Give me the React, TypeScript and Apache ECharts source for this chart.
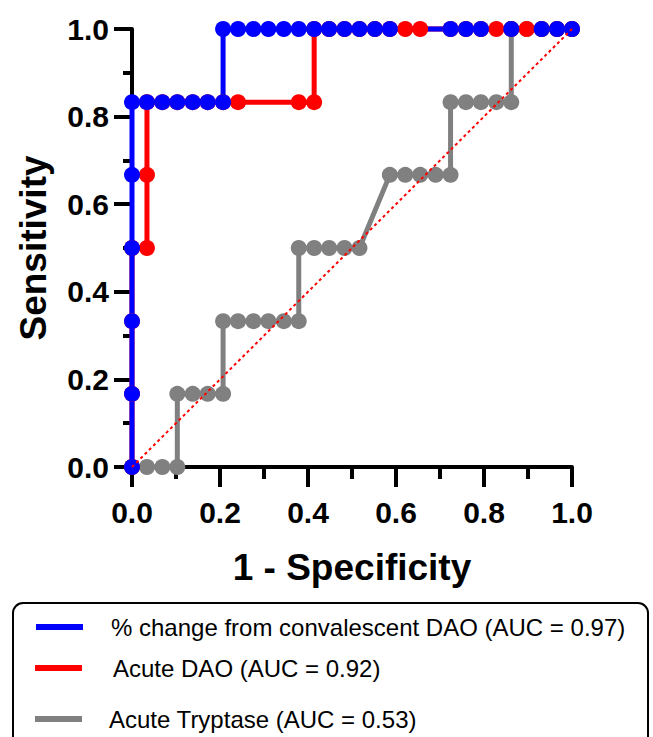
import React, { useEffect, useRef } from "react";
import * as echarts from "echarts";

// 1 - Specificity values (x) and Sensitivity values (y) for each curve
const blueName = "% change from convalescent DAO (AUC = 0.97)";
const redName = "Acute DAO (AUC = 0.92)";
const grayName = "Acute Tryptase (AUC = 0.53)";

const blueX = [0, 0, 0, 0, 0, 0, 0.034, 0.069, 0.103, 0.138, 0.172, 0.207, 0.207, 0.241, 0.276, 0.31, 0.345, 0.379, 0.414, 0.448, 0.483, 0.517, 0.552, 0.586, 0.724, 0.759, 0.793, 0.862, 0.931, 0.966, 1];
const blueY = [0, 0.167, 0.333, 0.5, 0.667, 0.833, 0.833, 0.833, 0.833, 0.833, 0.833, 0.833, 1, 1, 1, 1, 1, 1, 1, 1, 1, 1, 1, 1, 1, 1, 1, 1, 1, 1, 1];

const redX = [0, 0, 0, 0, 0.034, 0.034, 0.034, 0.069, 0.103, 0.138, 0.172, 0.207, 0.241, 0.379, 0.414, 0.414, 0.448, 0.483, 0.517, 0.552, 0.586, 0.621, 0.655, 0.724, 0.759, 0.793, 0.828, 0.862, 0.897, 0.931, 0.966, 1];
const redY = [0, 0.167, 0.333, 0.5, 0.5, 0.667, 0.833, 0.833, 0.833, 0.833, 0.833, 0.833, 0.833, 0.833, 0.833, 1, 1, 1, 1, 1, 1, 1, 1, 1, 1, 1, 1, 1, 1, 1, 1, 1];

const grayX = [0, 0.034, 0.069, 0.103, 0.103, 0.138, 0.172, 0.207, 0.207, 0.241, 0.276, 0.31, 0.345, 0.379, 0.379, 0.414, 0.448, 0.483, 0.517, 0.586, 0.621, 0.655, 0.69, 0.724, 0.724, 0.759, 0.793, 0.828, 0.862, 0.862, 0.897, 0.931, 0.966, 1];
const grayY = [0, 0, 0, 0, 0.167, 0.167, 0.167, 0.167, 0.333, 0.333, 0.333, 0.333, 0.333, 0.333, 0.5, 0.5, 0.5, 0.5, 0.5, 0.667, 0.667, 0.667, 0.667, 0.667, 0.833, 0.833, 0.833, 0.833, 0.833, 1, 1, 1, 1, 1];

const diagX = [0, 1];
const diagY = [0, 1];

const zip = (xs: number[], ys: number[]) => xs.map((x, i) => [x, ys[i]]);

const FONT = "'Liberation Sans', Arial, sans-serif";

export default function App() {
  const ref = useRef<HTMLDivElement>(null);
  useEffect(() => {
    document.body.style.margin = "0";
    const chart = echarts.init(ref.current!, null, { renderer: "svg" });
    const lineSeries = (name: string, color: string, xs: number[], ys: number[]) => ({
      name,
      type: "line",
      data: zip(xs, ys),
      symbol: "circle",
      symbolSize: 16,
      showSymbol: true,
      clip: false,
      lineStyle: { color, width: 5 },
      itemStyle: { color, borderWidth: 0 },
      emphasis: { disabled: true },
    });
    const legendItem = (name: string, left: number, top: number, gap: number) => ({
      data: [name],
      left,
      top,
      padding: 0,
      icon: "rect",
      itemWidth: 47,
      itemHeight: 6,
      selectedMode: false,
      textStyle: { fontSize: 24, fontFamily: FONT, color: "#000", padding: [0, 0, 0, gap] },
    });
    chart.setOption({
      animation: false,
      grid: { left: 132, right: 81, top: 29, bottom: 270 },
      xAxis: {
        type: "value",
        min: 0,
        max: 1,
        interval: 0.2,
        name: "1 - Specificity",
        nameLocation: "middle",
        nameGap: 82,
        nameTextStyle: { fontSize: 37, fontWeight: "bold", fontFamily: FONT, color: "#000" },
        axisLine: { show: true, lineStyle: { color: "#000", width: 4 } },
        axisTick: { show: true, length: 20, lineStyle: { color: "#000", width: 4 } },
        minorTick: { show: true, splitNumber: 2, length: 12, lineStyle: { color: "#000", width: 4 } },
        splitLine: { show: false },
        axisLabel: {
          margin: 30,
          fontSize: 30,
          fontWeight: "bold",
          fontFamily: FONT,
          color: "#000",
          formatter: (v: number) => v.toFixed(1),
        },
      },
      yAxis: {
        type: "value",
        min: 0,
        max: 1,
        interval: 0.2,
        name: "Sensitivity",
        nameLocation: "middle",
        nameGap: 80,
        nameTextStyle: { fontSize: 37, fontWeight: "bold", fontFamily: FONT, color: "#000" },
        axisLine: { show: true, lineStyle: { color: "#000", width: 4 } },
        axisTick: { show: true, length: 18, lineStyle: { color: "#000", width: 4 } },
        minorTick: { show: true, splitNumber: 2, length: 9, lineStyle: { color: "#000", width: 4 } },
        splitLine: { show: false },
        axisLabel: {
          margin: 23,
          fontSize: 30,
          fontWeight: "bold",
          fontFamily: FONT,
          color: "#000",
          formatter: (v: number) => v.toFixed(1),
        },
      },
      legend: [
        legendItem(blueName, 36, 615, 23),
        legendItem(redName, 35, 656, 26),
        legendItem(grayName, 35, 707, 22),
      ],
      graphic: [
        {
          type: "rect",
          shape: { x: 13, y: 603, width: 635, height: 150, r: 10 },
          style: { fill: "none", stroke: "#000", lineWidth: 2 },
          silent: true,
        },
      ],
      series: [
        lineSeries(grayName, "#808080", grayX, grayY),
        lineSeries(redName, "#ff0000", redX, redY),
        lineSeries(blueName, "#0000ff", blueX, blueY),
        {
          name: "reference",
          type: "line",
          data: zip(diagX, diagY),
          symbol: "none",
          clip: false,
          lineStyle: { color: "#ff0000", width: 2, type: [3, 3] },
          emphasis: { disabled: true },
          z: 5,
        },
      ],
    });
    return () => chart.dispose();
  }, []);
  return <div ref={ref} style={{ position: "absolute", left: 0, top: 0, width: 653, height: 737 }} />;
}
